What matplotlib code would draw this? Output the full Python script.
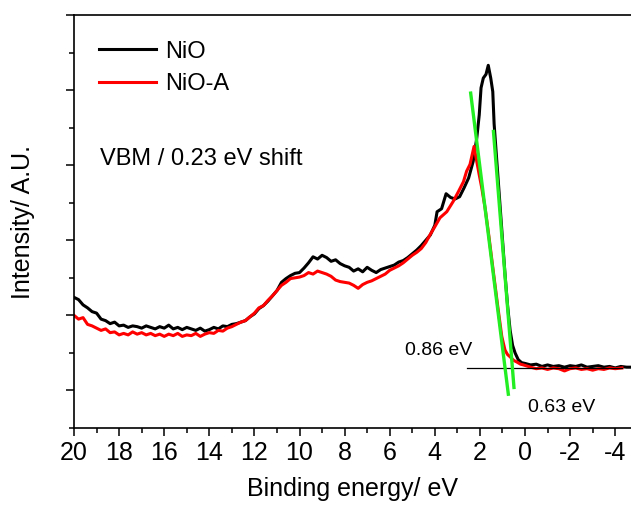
import numpy as np
import matplotlib
matplotlib.use('Agg')
import matplotlib.pyplot as plt
from matplotlib.ticker import MultipleLocator

plt.rcParams['font.family'] = ['Liberation Sans', 'DejaVu Sans']
plt.rcParams['axes.unicode_minus'] = False

# NiO (black) - binding energy / intensity
e_nio = [20.0, 19.8, 19.6, 19.4, 19.2, 19.0, 18.8, 18.6, 18.4, 18.2, 18.0, 17.8, 17.6, 17.4,
         17.2, 17.0, 16.8, 16.6, 16.4, 16.2, 16.0, 15.8, 15.6, 15.4, 15.2, 15.0, 14.8, 14.6,
         14.4, 14.2, 14.0, 13.8, 13.6, 13.4, 13.2, 13.0, 12.8, 12.6, 12.4, 12.2, 12.0, 11.8,
         11.6, 11.4, 11.2, 11.0, 10.8, 10.6, 10.4, 10.2, 10.0, 9.8, 9.6, 9.4, 9.2, 9.0, 8.8,
         8.6, 8.4, 8.2, 8.0, 7.8, 7.6, 7.4, 7.2, 7.0, 6.8, 6.6, 6.4, 6.2, 6.0, 5.8, 5.6, 5.4,
         5.2, 5.0, 4.8, 4.6, 4.4, 4.2, 4.0, 3.9, 3.7, 3.5, 3.3, 3.1, 2.9, 2.7, 2.5, 2.3, 2.14,
         2.03, 1.95, 1.85, 1.73, 1.63, 1.52, 1.43, 1.37, 1.25, 1.12, 1.0, 0.88, 0.77, 0.66,
         0.55, 0.44, 0.3, 0.15, 0.0, -0.25, -0.5, -0.75, -1.0, -1.25, -1.5, -1.75, -2.0,
         -2.25, -2.5, -2.75, -3.0, -3.25, -3.5, -3.75, -4.0, -4.25, -4.5, -4.7]
i_nio = [2.24, 2.21, 2.14, 2.10, 2.05, 2.03, 1.95, 1.93, 1.89, 1.91, 1.86, 1.87, 1.84, 1.86,
         1.85, 1.83, 1.86, 1.84, 1.82, 1.85, 1.83, 1.87, 1.82, 1.84, 1.81, 1.84, 1.82, 1.80,
         1.83, 1.79, 1.81, 1.84, 1.82, 1.86, 1.85, 1.88, 1.89, 1.91, 1.93, 1.98, 2.02, 2.09,
         2.13, 2.19, 2.26, 2.33, 2.44, 2.49, 2.53, 2.56, 2.57, 2.63, 2.70, 2.78, 2.75, 2.80,
         2.77, 2.72, 2.74, 2.69, 2.66, 2.64, 2.59, 2.62, 2.58, 2.64, 2.60, 2.57, 2.61, 2.63,
         2.65, 2.67, 2.71, 2.73, 2.77, 2.82, 2.87, 2.93, 3.00, 3.07, 3.20, 3.38, 3.42, 3.62,
         3.57, 3.55, 3.58, 3.70, 3.83, 4.05, 4.36, 4.67, 5.03, 5.16, 5.21, 5.33, 5.16, 4.98,
         4.55, 4.05, 3.52, 3.02, 2.52, 2.12, 1.80, 1.60, 1.50, 1.41, 1.37, 1.36, 1.34, 1.35,
         1.32, 1.34, 1.32, 1.33, 1.31, 1.33, 1.32, 1.34, 1.31, 1.32, 1.33, 1.31, 1.32, 1.30,
         1.32, 1.31, 1.31]

# NiO-A (red)
e_nioa = [20.0, 19.8, 19.6, 19.4, 19.2, 19.0, 18.8, 18.6, 18.4, 18.2, 18.0, 17.8, 17.6, 17.4,
          17.2, 17.0, 16.8, 16.6, 16.4, 16.2, 16.0, 15.8, 15.6, 15.4, 15.2, 15.0, 14.8, 14.6,
          14.4, 14.2, 14.0, 13.8, 13.6, 13.4, 13.2, 13.0, 12.8, 12.6, 12.4, 12.2, 12.0, 11.8,
          11.6, 11.4, 11.2, 11.0, 10.8, 10.6, 10.4, 10.2, 10.0, 9.8, 9.6, 9.4, 9.2, 9.0, 8.8,
          8.6, 8.4, 8.2, 8.0, 7.8, 7.6, 7.4, 7.2, 7.0, 6.8, 6.6, 6.4, 6.2, 6.0, 5.8, 5.6, 5.4,
          5.2, 5.0, 4.8, 4.6, 4.4, 4.2, 4.0, 3.77, 3.47, 3.18, 2.95, 2.73, 2.59, 2.44, 2.26,
          2.14, 2.03, 1.92, 1.77, 1.6, 1.4, 1.2, 1.03, 0.89, 0.78, 0.67, 0.5, 0.37, 0.2, 0.07,
          -0.25, -0.5, -0.75, -1.0, -1.25, -1.5, -1.75, -2.0, -2.25, -2.5, -2.75, -3.0, -3.25,
          -3.5, -3.75, -4.0, -4.3]
i_nioa = [2.00, 1.95, 1.97, 1.88, 1.86, 1.83, 1.80, 1.82, 1.77, 1.78, 1.74, 1.76, 1.74, 1.78,
          1.75, 1.77, 1.74, 1.76, 1.73, 1.75, 1.72, 1.75, 1.73, 1.76, 1.72, 1.74, 1.73, 1.76,
          1.72, 1.75, 1.77, 1.76, 1.80, 1.79, 1.83, 1.85, 1.88, 1.91, 1.93, 1.98, 2.03, 2.10,
          2.13, 2.20, 2.26, 2.33, 2.40, 2.44, 2.49, 2.50, 2.51, 2.53, 2.57, 2.55, 2.59, 2.57,
          2.55, 2.52, 2.47, 2.45, 2.44, 2.43, 2.40, 2.36, 2.41, 2.44, 2.46, 2.49, 2.52, 2.55,
          2.60, 2.63, 2.66, 2.70, 2.75, 2.80, 2.84, 2.89, 2.97, 3.08, 3.18, 3.30, 3.38, 3.52,
          3.65, 3.78, 3.92, 4.01, 4.25, 4.05, 3.87, 3.70, 3.43, 3.05, 2.57, 2.10, 1.72, 1.54,
          1.48, 1.45, 1.40, 1.38, 1.35, 1.34, 1.31, 1.29, 1.30, 1.28, 1.30, 1.29, 1.26, 1.29,
          1.30, 1.28, 1.29, 1.27, 1.29, 1.28, 1.30, 1.29, 1.30]

# leading-edge fits (green) and baseline
fit_nioa_x = [2.41, 0.74]
fit_nioa_y = [4.96, 0.95]
fit_nio_x = [1.40, 0.49]
fit_nio_y = [4.45, 1.04]
base_x = [2.59, -4.3]
base_y = [1.296, 1.296]

fig = plt.figure(figsize=(6.31, 5.07), dpi=100)
ax = fig.add_axes([0.1173, 0.1558, 0.8827, 0.8146])

ax.plot(e_nio, i_nio, color='black', lw=2.2, label='NiO')
ax.plot(e_nioa, i_nioa, color='red', lw=2.2, label='NiO-A')
ax.plot(base_x, base_y, color='black', lw=0.9)
ax.plot(fit_nioa_x, fit_nioa_y, color='#22ee22', lw=2.4)
ax.plot(fit_nio_x, fit_nio_y, color='#22ee22', lw=2.4)

ax.set_xlim(20, -4.7)
ax.set_ylim(0.5, 6.0)
ax.xaxis.set_major_locator(MultipleLocator(2))
ax.xaxis.set_minor_locator(MultipleLocator(1))
ax.yaxis.set_major_locator(MultipleLocator(1))
ax.yaxis.set_minor_locator(MultipleLocator(0.5))
ax.tick_params(which='major', direction='out', length=6, width=1.1, labelsize=18, pad=3)
ax.tick_params(which='minor', direction='out', length=3.5, width=1.1)
ax.tick_params(axis='y', which='both', labelleft=False)
ax.spines['right'].set_visible(False)
for s in ['left', 'bottom', 'top']:
    ax.spines[s].set_linewidth(1.2)

ax.set_xlabel('Binding energy/ eV', fontsize=18, labelpad=9)
ax.set_ylabel('Intensity/ A.U.', fontsize=18, labelpad=22)

ax.text(18.85, 4.0, 'VBM / 0.23 eV shift', fontsize=17)
ax.text(5.32, 1.47, '0.86 eV', fontsize=14)
ax.text(-0.13, 0.71, '0.63 eV', fontsize=14)

ax.legend(loc='upper left', bbox_to_anchor=(0.045, 0.938), frameon=False, fontsize=17,
          handlelength=2.4, handletextpad=0.4, labelspacing=0.45, borderaxespad=0,
          borderpad=0)

fig.savefig('out.png', dpi=100)
